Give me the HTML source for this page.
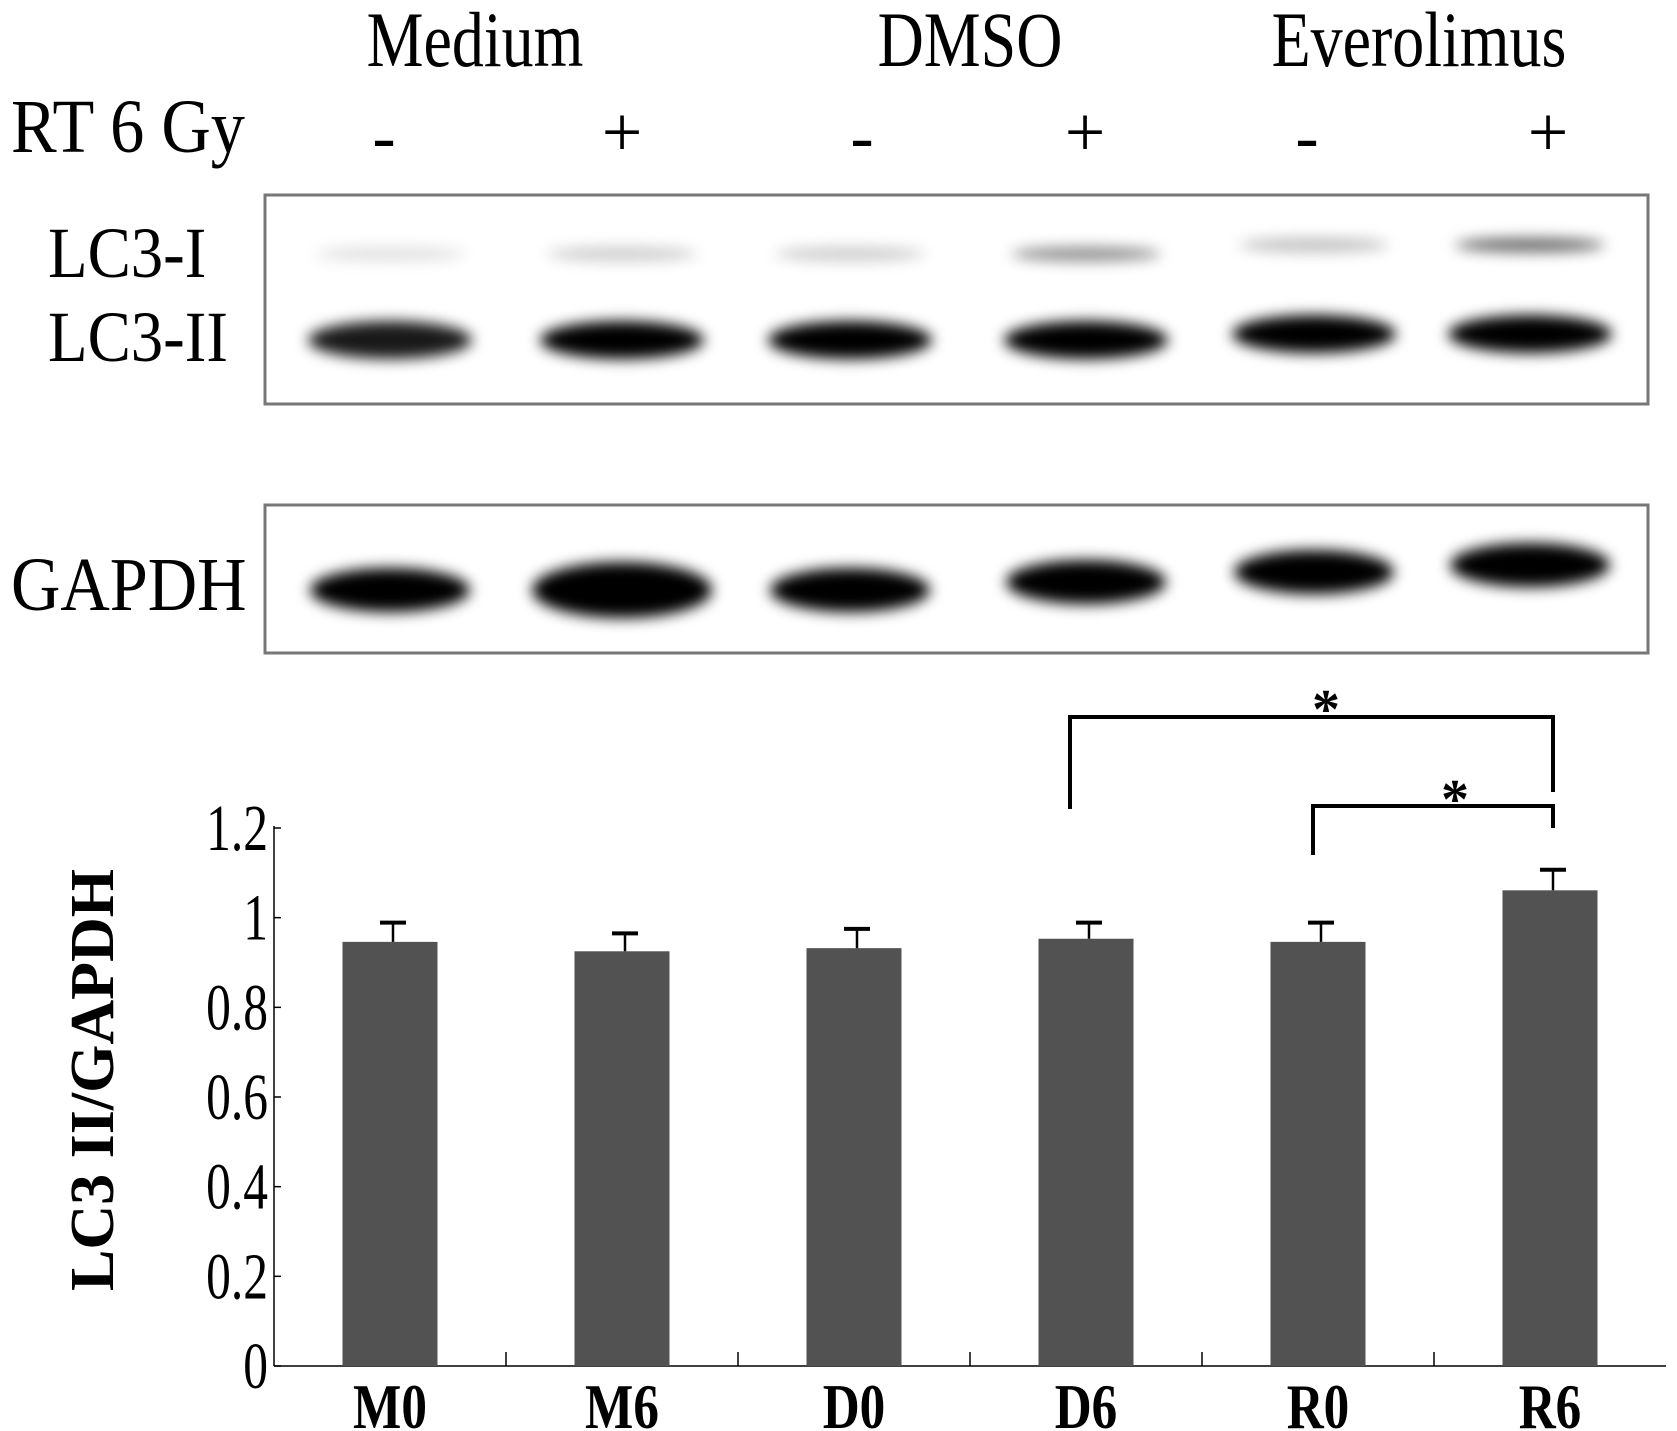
<!DOCTYPE html>
<html><head><meta charset="utf-8"><style>
html,body{margin:0;padding:0;background:#fff;}
svg{display:block;font-family:"Liberation Serif",serif;}
</style></head><body>
<svg id="fig" width="1677" height="1431" viewBox="0 0 1677 1431">
<defs>
<filter id="blur" x="-30%" y="-100%" width="160%" height="300%"><feGaussianBlur stdDeviation="7"/></filter>
</defs>
<g>
<text x="0" y="0" font-size="78" text-anchor="middle" transform="translate(475,66) scale(0.82,1)">Medium</text>
<text x="0" y="0" font-size="78" text-anchor="middle" transform="translate(970,66) scale(0.82,1)">DMSO</text>
<text x="0" y="0" font-size="78" text-anchor="middle" transform="translate(1419,66) scale(0.82,1)">Everolimus</text>
<text x="0" y="0" font-size="76" transform="translate(11,152) scale(0.9,1)">RT 6 Gy</text>
</g>
<g id="signs"></g>
<g>
<rect x="265" y="195" width="1383" height="209" fill="#fff" stroke="#777" stroke-width="3"/>
<g id="lc3bands" filter="url(#blur)"></g>
<text x="0" y="0" font-size="72" transform="translate(48,277) scale(0.9,1)">LC3-I</text>
<text x="0" y="0" font-size="72" transform="translate(48,361) scale(0.9,1)">LC3-II</text>
</g>
<g>
<rect x="265" y="505" width="1383" height="148" fill="#fff" stroke="#777" stroke-width="3"/>
<g id="gapdhbands" filter="url(#blur)"></g>
<text x="0" y="0" font-size="76" transform="translate(11,610) scale(0.9,1)">GAPDH</text>
</g>
<g id="chart"></g>
</svg>
<script>
const categories = ["M0","M6","D0","D6","R0","R6"];
const values = [0.946, 0.925, 0.932, 0.953, 0.946, 1.061];
const errors = [0.043, 0.040, 0.043, 0.036, 0.043, 0.046];
const yTicks = [0, 0.2, 0.4, 0.6, 0.8, 1, 1.2];
const yTickLabels = ["0","0.2","0.4","0.6","0.8","1","1.2"];
const rtSigns = ["-","+","-","+","-","+"];
const lc3iIntensity = [0.12, 0.2, 0.2, 0.45, 0.25, 0.6];
const lc3iiIntensity = [0.9, 1, 1, 1, 1, 1];
const gapdhIntensity = [1, 1, 1, 1, 1, 1];
const lc3iiOffset = [0, 0, 0, 0, -6, -6];
const gapdhOffset = [0, 0, 0, -8, -18, -25];
const NS = "http://www.w3.org/2000/svg";
function mk(tag, attrs, parent){const e=document.createElementNS(NS,tag);for(const k in attrs)e.setAttribute(k,attrs[k]);parent.appendChild(e);return e;}
const X0=274, X1=1666, Y0=1366, Ytop=828, VMAX=1.2;
const slot=(X1-X0)/categories.length;
const xC=i=>X0+slot*(i+0.5);
const yS=v=>Y0-(v/VMAX)*(Y0-Ytop);
const chart=document.getElementById('chart');
const signs=document.getElementById('signs');
const signX=[384,622,862,1085,1307,1548];
rtSigns.forEach((s,i)=>{const t=mk('text',{x:signX[i],y:s==='+'?156:160,'font-size':s==='+'?72:70,'text-anchor':'middle'},signs);t.textContent=s;

});
const laneX=[390,622,850,1086,1314,1530];
const lb=document.getElementById('lc3bands');
categories.forEach((c,i)=>{
 const a=mk('ellipse',{cx:laneX[i],cy:254+lc3iiOffset[i]*1.5,rx:75,ry:7,fill:'#000','fill-opacity':lc3iIntensity[i]},lb);
 
 
 const b=mk('ellipse',{cx:laneX[i],cy:340+lc3iiOffset[i],rx:82,ry:19,fill:'#000','fill-opacity':lc3iiIntensity[i]},lb);
 
 
});
const gb=document.getElementById('gapdhbands');
categories.forEach((c,i)=>{
 const g=mk('ellipse',{cx:laneX[i],cy:590+gapdhOffset[i],rx:i===1?90:80,ry:i===1?28:22,fill:'#000','fill-opacity':gapdhIntensity[i]},gb);
 
 
});
const ya=mk('line',{x1:X0,y1:Ytop-2,x2:X0,y2:Y0,stroke:'#000','stroke-width':1.5},chart);

const xa=mk('line',{x1:X0,y1:Y0,x2:X1,y2:Y0,stroke:'#000','stroke-width':1.5},chart);

yTicks.forEach((v,i)=>{
 const tk=mk('line',{x1:X0,y1:yS(v),x2:X0+7,y2:yS(v),stroke:'#000','stroke-width':1.5},chart);
 
 const t=mk('text',{x:0,y:0,'font-size':66,'text-anchor':'end',transform:`translate(268,${yS(v)+22}) scale(0.75,1)`},chart);
 t.textContent=yTickLabels[i];
 
});
for(let i=1;i<categories.length;i++){
 const tk=mk('line',{x1:X0+slot*i,y1:Y0,x2:X0+slot*i,y2:Y0-14,stroke:'#000','stroke-width':1.5},chart);
 
}
const yt=mk('text',{x:0,y:0,'font-size':62,'font-weight':'bold','text-anchor':'middle',transform:'translate(113,1080) rotate(-90)'},chart);
yt.textContent='LC3 II/GAPDH';

categories.forEach((c,i)=>{
 const w=95,x=xC(i);
 const r=mk('rect',{x:x-w/2,y:yS(values[i]),width:w,height:Y0-yS(values[i]),fill:'#525252'},chart);
 
 const ex=x+3,top=yS(values[i]+errors[i]);
 const e1=mk('line',{x1:ex,y1:yS(values[i]),x2:ex,y2:top,stroke:'#000','stroke-width':2.5},chart);
 
 const e2=mk('line',{x1:ex-13,y1:top,x2:ex+13,y2:top,stroke:'#000','stroke-width':4},chart);
 
 const t=mk('text',{x:0,y:0,'font-size':64,'font-weight':'bold','text-anchor':'middle',transform:`translate(${x},1428) scale(0.8,1)`},chart);
 t.textContent=c;
 
});
const br1=mk('path',{d:`M1070 809 V717 H1553 V792`,fill:'none',stroke:'#000','stroke-width':4},chart);

const s1=mk('text',{x:1326,y:728,'font-size':56,'font-weight':'bold','text-anchor':'middle'},chart);s1.textContent='*';

const br2=mk('path',{d:`M1313 855 V806 H1553 V828`,fill:'none',stroke:'#000','stroke-width':4},chart);

const s2=mk('text',{x:1455,y:818,'font-size':56,'font-weight':'bold','text-anchor':'middle'},chart);s2.textContent='*';

</script>
</body></html>
